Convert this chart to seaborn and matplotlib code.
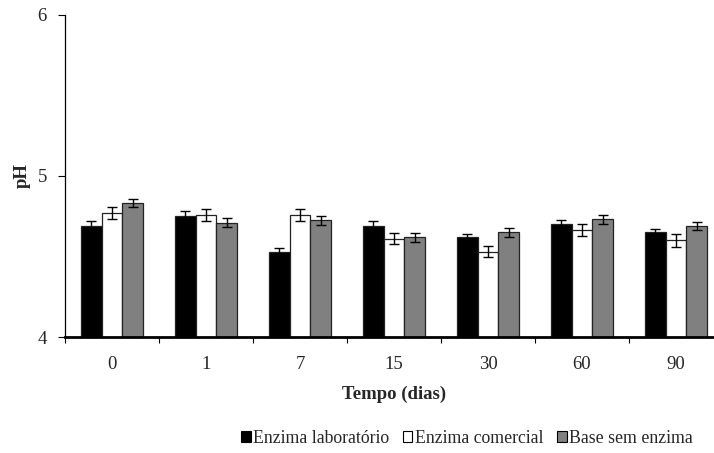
import matplotlib
matplotlib.use("Agg")
import matplotlib.pyplot as plt
import numpy as np
import pandas as pd
import seaborn as sns

tempos = ["0", "1", "7", "15", "30", "60", "90"]
series = ["Enzima laboratório", "Enzima comercial", "Base sem enzima"]
lab = [4.69, 4.75, 4.53, 4.69, 4.62, 4.70, 4.65]
comercial = [4.77, 4.76, 4.76, 4.61, 4.53, 4.665, 4.60]
base = [4.83, 4.71, 4.725, 4.62, 4.65, 4.73, 4.69]
lab_err = [0.03, 0.03, 0.02, 0.03, 0.022, 0.029, 0.02]
comercial_err = [0.035, 0.038, 0.038, 0.035, 0.036, 0.038, 0.038]
base_err = [0.025, 0.027, 0.028, 0.027, 0.027, 0.028, 0.027]
cores = ["#000000", "#ffffff", "#808080"]

df = pd.DataFrame({
    "tempo": tempos * 3,
    "serie": np.repeat(series, len(tempos)),
    "ph": lab + comercial + base,
    "err": lab_err + comercial_err + base_err,
})

sns.set_style("white")
plt.rcParams["font.family"] = ["Liberation Serif", "DejaVu Serif"]

fig = plt.figure(figsize=(7.14, 4.53), dpi=100)
ax = fig.add_axes([0.091, 0.256, 0.9216, 0.711])

sns.barplot(data=df, x="tempo", y="ph", hue="serie", order=tempos,
            hue_order=series, palette=cores, width=0.66, gap=0,
            errorbar=None, edgecolor="#222222", linewidth=0.9,
            legend=False, ax=ax)

# error bars at bar centres
for cont, s in zip(ax.containers, series):
    sub = df[df["serie"] == s].set_index("tempo").loc[tempos]
    xs = [p.get_x() + p.get_width() / 2 for p in cont.patches]
    ax.errorbar(xs, sub["ph"], yerr=sub["err"], fmt="none", ecolor="black",
                elinewidth=1.0, capsize=3.5, capthick=1.0, zorder=5)

ax.set_ylim(4, 6)
ax.set_yticks([4, 5, 6])
ax.set_xlim(-0.5, 6.5)
ax.set_xticks(np.arange(-0.5, 7, 1), minor=True)
ax.tick_params(axis="x", which="major", length=0, labelsize=13.5, pad=14)
ax.tick_params(axis="x", which="minor", length=4, width=0.8, direction="out",
               color="black", bottom=True)
ax.tick_params(axis="y", length=5, width=0.8, direction="out", color="black",
               left=True, labelsize=13.5, pad=8)

for side in ["top", "right"]:
    ax.spines[side].set_visible(False)
ax.spines["left"].set_color("black")
ax.spines["left"].set_linewidth(0.9)
ax.spines["bottom"].set_color("black")
ax.spines["bottom"].set_linewidth(2)

ax.set_xlabel("Tempo (dias)", fontsize=13.5, fontweight="bold", labelpad=9)
ax.set_ylabel("pH", fontsize=13.5, fontweight="bold", labelpad=5)

handles = [plt.Rectangle((0, 0), 1, 1, facecolor=c, edgecolor="black",
                         linewidth=0.8) for c in cores]
fig.legend(handles, series, loc="center", bbox_to_anchor=(0.654, 0.033),
           ncol=3, frameon=False, fontsize=12.8, handlelength=0.55,
           handleheight=0.55, handletextpad=0.15, columnspacing=0.75)

fig.savefig("out.png", dpi=100)
